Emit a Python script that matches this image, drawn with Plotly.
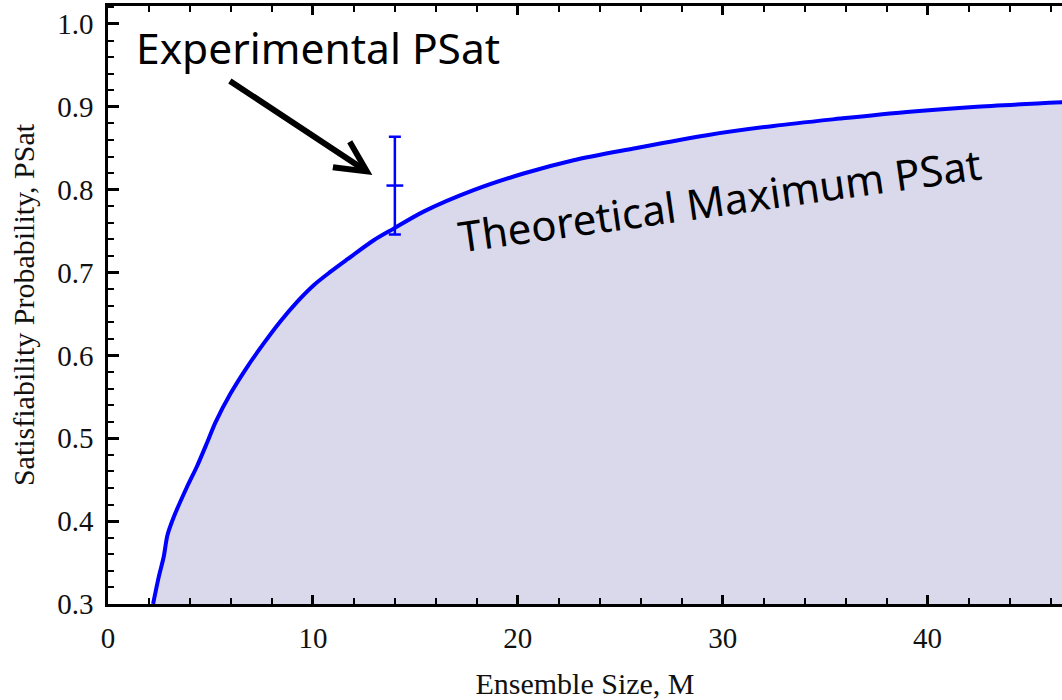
import plotly.graph_objects as go

# Theoretical maximum PSat curve
ensemble_size = [2.2, 2.48, 2.72, 2.9, 3.21, 3.86, 4.35, 4.84, 5.24, 5.98,
                 6.79, 7.6, 8.41, 9.23, 10.04, 10.85, 11.67, 12.97, 13.94, 15.4,
                 17.84, 20.28, 22.72, 25.65, 29.23, 32.48, 35.73, 38.98, 42.23, 46.6]
psat_theory = [0.300, 0.333, 0.357, 0.383, 0.405, 0.4415, 0.4666, 0.4950,
               0.519, 0.554, 0.586, 0.6145, 0.641, 0.6647, 0.6848, 0.7008, 0.7158,
               0.739, 0.753, 0.7735, 0.7994, 0.8195, 0.8356, 0.8497, 0.8658, 0.877, 0.8858,
               0.8939, 0.8999, 0.9055]

# Experimental point
exp_m = [14]
exp_psat = [0.805]
exp_err = [0.059]

x_ticks = [0, 10, 20, 30, 40]
y_ticks = [0.3, 0.4, 0.5, 0.6, 0.7, 0.8, 0.9, 1.0]

serif = "Liberation Serif, Times New Roman, serif"
sans = "Noto Sans, Open Sans, sans-serif"

fig = go.Figure()
fig.add_trace(go.Scatter(
    x=ensemble_size, y=psat_theory, mode="lines",
    line=dict(color="#0000FF", width=4, shape="spline", smoothing=0.8),
    fill="tozeroy", fillcolor="#D9D9EB", hoverinfo="skip", showlegend=False))
fig.add_trace(go.Scatter(
    x=exp_m, y=exp_psat, mode="markers",
    marker=dict(symbol="line-ew", size=12, color="#0000FF",
                line=dict(color="#0000FF", width=2.5)),
    error_y=dict(type="data", array=exp_err, color="#0000FF", thickness=2.5, width=6),
    showlegend=False))

fig.update_layout(
    width=1062, height=700,
    margin=dict(l=107.5, r=0, t=6, b=96),
    paper_bgcolor="white", plot_bgcolor="white",
    xaxis=dict(
        range=[0, 46.56], tickvals=x_ticks, ticks="inside", ticklen=9, tickwidth=2.5,
        tickcolor="black", minor=dict(dtick=2, tick0=0, ticks="inside", ticklen=6,
                                      tickwidth=2, tickcolor="black"),
        showline=True, linewidth=2.5, linecolor="black", mirror="ticks",
        showgrid=False, zeroline=False,
        tickfont=dict(family=serif, size=29, color="#111"),
        ticklabelstandoff=6,
        title=dict(text="Ensemble Size, M", font=dict(family=serif, size=30, color="#111"),
                   standoff=22),
        automargin=False),
    yaxis=dict(
        range=[0.3, 1.0217], tickvals=y_ticks, tickformat=".1f", ticks="inside",
        ticklen=11, tickwidth=2.5, tickcolor="black",
        minor=dict(dtick=0.02, tick0=0.3, ticks="inside", ticklen=6, tickwidth=2,
                   tickcolor="black"),
        showline=True, linewidth=2.5, linecolor="black", mirror=False,
        showgrid=False, zeroline=False,
        tickfont=dict(family=serif, size=29, color="#111"),
        ticklabelstandoff=6,
        title=dict(text="Satisfiability Probability, PSat",
                   font=dict(family=serif, size=30, color="#111"), standoff=14),
        automargin=False),
    annotations=[
        dict(x=(134 - 107.5) / 20.5, y=0.3 + (604 - 47) / 828.6, xref="x", yref="y",
             text="Experimental PSat", showarrow=False, xanchor="left", yanchor="middle",
             font=dict(family=sans, size=42.5, color="black")),
        dict(x=29.85, y=0.7876, xref="x", yref="y", text="Theoretical Maximum PSat",
             showarrow=False, textangle=-8, xanchor="center", yanchor="middle",
             font=dict(family=sans, size=42, color="black")),
        dict(x=(372 - 107.5) / 20.5, y=0.3 + (604 - 175) / 828.6, xref="x", yref="y",
             text="", showarrow=True, ax=-144, ay=-95, arrowhead=5, arrowsize=1.0,
             arrowwidth=6, arrowcolor="black", standoff=0),
    ],
)

fig.write_html("out.html")
